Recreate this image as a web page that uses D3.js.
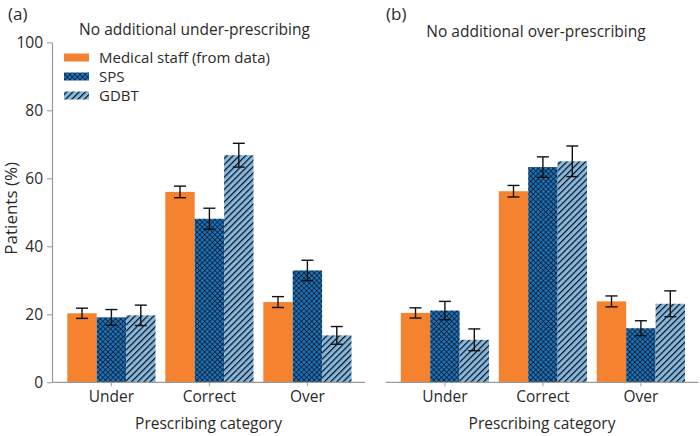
<!DOCTYPE html>
<html>
<head>
<meta charset="utf-8">
<script src="https://cdn.jsdelivr.net/npm/d3@7"></script>
<style>
  html, body { margin: 0; padding: 0; background: #fff; }
  svg { display: block; }
  text { font-family: "Open Sans", "Noto Sans", sans-serif; fill: #2a2a2a; }
</style>
</head>
<body>
<svg id="chart" width="700" height="436"></svg>
<script>
// ---- data ----
const categories = ["Under", "Correct", "Over"];
const seriesNames = ["Medical staff (from data)", "SPS", "GDBT"];
const panelLabels = ["(a)", "(b)"];
const panelTitles = ["No additional under-prescribing", "No additional over-prescribing"];
const yTicks = [0, 20, 40, 60, 80, 100];

// Panel (a)
const aMedical = [20.3, 56.0, 23.6];
const aSPS     = [19.1, 48.1, 32.9];
const aGDBT    = [19.7, 66.8, 13.8];
const aMedicalErr = [1.5, 1.7, 1.6];
const aSPSErr     = [2.3, 3.1, 3.0];
const aGDBTErr    = [3.0, 3.5, 2.6];

// Panel (b)
const bMedical = [20.4, 56.2, 23.8];
const bSPS     = [21.1, 63.3, 15.9];
const bGDBT    = [12.5, 65.0, 23.1];
const bMedicalErr = [1.5, 1.7, 1.6];
const bSPSErr     = [2.7, 3.0, 2.2];
const bGDBTErr    = [3.2, 4.5, 3.8];

const panels = [
  { values: [aMedical, aSPS, aGDBT], errs: [aMedicalErr, aSPSErr, aGDBTErr], x0: 52, showY: true, legend: true },
  { values: [bMedical, bSPS, bGDBT], errs: [bMedicalErr, bSPSErr, bGDBTErr], x0: 385.5, showY: false, legend: false }
];

// ---- styles ----
const svg = d3.select("#chart");
const defs = svg.append("defs");
const orange = "#f5822f";
const darkBlue = "#1f70b6";
const lightBlue = "#86b7de";
const axisColor = "#9a9a9a";

// crosshatch pattern
const cs = 3.6;
const ph = defs.append("pattern").attr("id", "cross").attr("patternUnits", "userSpaceOnUse")
  .attr("width", cs).attr("height", cs).attr("patternTransform", "rotate(45)");
ph.append("rect").attr("width", cs).attr("height", cs).attr("fill", darkBlue);
ph.append("line").attr("x1", 0).attr("y1", 0).attr("x2", 0).attr("y2", cs).attr("stroke", "#000").attr("stroke-width", 1.1);
ph.append("line").attr("x1", 0).attr("y1", 0).attr("x2", cs).attr("y2", 0).attr("stroke", "#000").attr("stroke-width", 1.1);

// diagonal pattern
const ds = 4.4;
const pd = defs.append("pattern").attr("id", "diag").attr("patternUnits", "userSpaceOnUse")
  .attr("width", ds).attr("height", ds).attr("patternTransform", "rotate(45)");
pd.append("rect").attr("width", ds).attr("height", ds).attr("fill", lightBlue);
pd.append("line").attr("x1", 0.6).attr("y1", 0).attr("x2", 0.6).attr("y2", ds).attr("stroke", "#000").attr("stroke-width", 1.1);

const fills = [orange, "url(#cross)", "url(#diag)"];

// ---- scales ----
const y = d3.scaleLinear().domain([0, 100]).range([382.3, 42.3]);
const x = d3.scaleBand().domain(categories).range([10.4, 304.4]).paddingInner(0.1).paddingOuter(0.05);
const xs = d3.scaleBand().domain(d3.range(seriesNames.length)).range([0, x.bandwidth()]);
const axisWidth = 313;

panels.forEach((p, pi) => {
  const g = svg.append("g").attr("transform", `translate(${p.x0},0)`);

  // bars
  seriesNames.forEach((s, si) => {
    g.append("g").selectAll("rect").data(categories).join("rect")
      .attr("x", c => x(c) + xs(si))
      .attr("width", xs.bandwidth())
      .attr("y", (c, ci) => y(p.values[si][ci]))
      .attr("height", (c, ci) => y(0) - y(p.values[si][ci]))
      .attr("fill", fills[si]);
  });

  // error bars
  seriesNames.forEach((s, si) => {
    const eg = g.append("g").attr("stroke", "#111").attr("stroke-width", 1.4).attr("fill", "none");
    categories.forEach((c, ci) => {
      const cx = x(c) + xs(si) + xs.bandwidth() / 2;
      const v = p.values[si][ci], e = p.errs[si][ci];
      eg.append("line").attr("x1", cx).attr("x2", cx).attr("y1", y(v + e)).attr("y2", y(v - e));
      eg.append("line").attr("x1", cx - 6).attr("x2", cx + 6).attr("y1", y(v + e)).attr("y2", y(v + e));
      eg.append("line").attr("x1", cx - 6).attr("x2", cx + 6).attr("y1", y(v - e)).attr("y2", y(v - e));
    });
  });

  // x axis
  const xAxisG = g.append("g").attr("transform", `translate(0,${y(0)})`);
  xAxisG.append("line").attr("x1", 0).attr("x2", axisWidth).attr("stroke", axisColor).attr("stroke-width", 1.2);
  const xa = d3.axisBottom(x).tickSize(4).tickSizeOuter(0).tickPadding(5);
  const xag = xAxisG.append("g").call(xa);
  xag.select(".domain").remove();
  xag.selectAll(".tick line").attr("stroke", axisColor);
  xag.selectAll(".tick text").attr("font-size", 15.5).attr("fill", "#2a2a2a")
    .attr("font-family", '"Open Sans", sans-serif');

  g.append("text").attr("x", axisWidth / 2).attr("y", 429).attr("text-anchor", "middle")
    .attr("font-size", 15.5).text("Prescribing category");

  // y axis
  if (p.showY) {
    const ya = d3.axisLeft(y).tickValues(yTicks).tickSize(5).tickSizeOuter(0).tickPadding(4);
    const yag = g.append("g").call(ya);
    yag.select(".domain").attr("stroke", axisColor).attr("stroke-width", 1.2);
    yag.selectAll(".tick line").attr("stroke", axisColor);
    yag.selectAll(".tick text").attr("font-size", 15.5).attr("fill", "#2a2a2a")
      .attr("font-family", '"Open Sans", sans-serif');
    svg.append("text").attr("transform", `translate(17,${(y(0) + y(100)) / 2 - 4}) rotate(-90)`)
      .attr("text-anchor", "middle").attr("font-size", 17).text("Patients (%)");
  }

  // legend
  if (p.legend) {
    const lg = g.append("g");
    seriesNames.forEach((s, si) => {
      lg.append("rect").attr("x", 12).attr("y", 53.5 + si * 19).attr("width", 25).attr("height", 8).attr("fill", fills[si]);
      lg.append("text").attr("x", 47).attr("y", 62.5 + si * 19).attr("font-size", 15).text(s);
    });
  }
});

// panel labels and titles
svg.append("text").attr("x", 8).attr("y", 20).attr("font-size", 17).text(panelLabels[0]);
svg.append("text").attr("x", 386).attr("y", 20).attr("font-size", 17).text(panelLabels[1]);
svg.append("text").attr("x", 194.5).attr("y", 35).attr("text-anchor", "middle").attr("font-size", 15.5).text(panelTitles[0]);
svg.append("text").attr("x", 536).attr("y", 37).attr("text-anchor", "middle").attr("font-size", 15.5).text(panelTitles[1]);
</script>
</body>
</html>
